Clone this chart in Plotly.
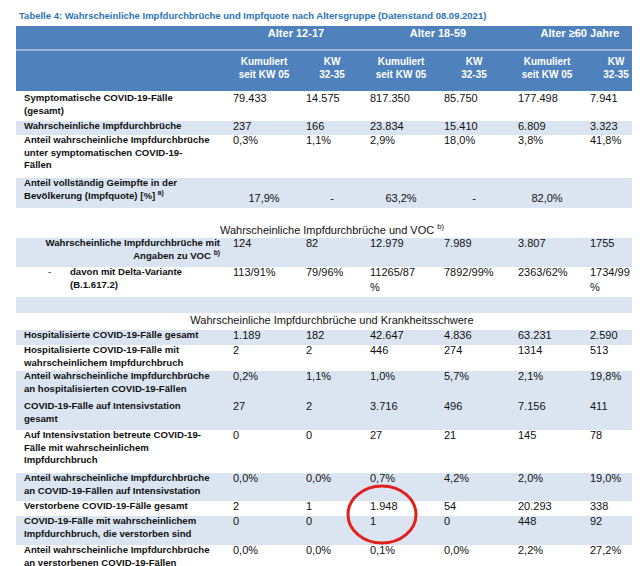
import plotly.graph_objects as go

# ---- data ----
title = "Tabelle 4: Wahrscheinliche Impfdurchbrüche und Impfquote nach Altersgruppe (Datenstand 08.09.2021)"
age_groups = ["Alter 12-17", "Alter 18-59", "Alter ≥60 Jahre"]
sub_headers = ["Kumuliert<br>seit KW 05", "KW<br>32-35"] * 3

row_labels = [
    "Symptomatische COVID-19-Fälle<br>(gesamt)",
    "Wahrscheinliche Impfdurchbrüche",
    "Anteil wahrscheinliche Impfdurchbrüche<br>unter symptomatischen COVID-19-<br>Fällen",
    "Anteil vollständig Geimpfte in der<br>Bevölkerung (Impfquote) [%] <sup>a)</sup>",
    "Wahrscheinliche Impfdurchbrüche mit<br>Angaben zu VOC <sup>b)</sup>",
    "davon mit Delta-Variante<br>(B.1.617.2)",
    "Hospitalisierte COVID-19-Fälle gesamt",
    "Hospitalisierte COVID-19-Fälle mit<br>wahrscheinlichem Impfdurchbruch",
    "Anteil wahrscheinliche Impfdurchbrüche<br>an hospitalisierten COVID-19-Fällen",
    "COVID-19-Fälle auf Intensivstation<br>gesamt",
    "Auf Intensivstation betreute COVID-19-<br>Fälle mit wahrscheinlichem<br>Impfdurchbruch",
    "Anteil wahrscheinliche Impfdurchbrüche<br>an COVID-19-Fällen auf Intensivstation",
    "Verstorbene COVID-19-Fälle gesamt",
    "COVID-19-Fälle mit wahrscheinlichem<br>Impfdurchbruch, die verstorben sind",
    "Anteil wahrscheinliche Impfdurchbrüche<br>an verstorbenen COVID-19-Fällen",
]
kum_12_17 = ["79.433", "237", "0,3%", "17,9%", "124", "113/91%", "1.189", "2", "0,2%", "27", "0", "0,0%", "2", "0", "0,0%"]
kw_12_17 = ["14.575", "166", "1,1%", "-", "82", "79/96%", "182", "2", "1,1%", "2", "0", "0,0%", "1", "0", "0,0%"]
kum_18_59 = ["817.350", "23.834", "2,9%", "63,2%", "12.979", "11265/87<br>%", "42.647", "446", "1,0%", "3.716", "27", "0,7%", "1.948", "1", "0,1%"]
kw_18_59 = ["85.750", "15.410", "18,0%", "-", "7.989", "7892/99%", "4.836", "274", "5,7%", "496", "21", "4,2%", "54", "0", "0,0%"]
kum_60 = ["177.498", "6.809", "3,8%", "82,0%", "3.807", "2363/62%", "63.231", "1314", "2,1%", "7.156", "145", "2,0%", "20.293", "448", "2,2%"]
kw_60 = ["7.941", "3.323", "41,8%", "", "1755", "1734/99<br>%", "2.590", "513", "19,8%", "411", "78", "19,0%", "338", "92", "27,2%"]
section_titles = ["Wahrscheinliche Impfdurchbrüche und VOC <sup>b)</sup>",
                  "Wahrscheinliche Impfdurchbrüche und Krankheitsschwere"]

# ---- layout (pixels) ----
W, H = 640, 566
row_top = [85, 113, 127, 170, 230, 259, 322, 337, 363, 393, 422, 465, 493, 508, 537]
row_bot = [113, 127, 170, 200, 259, 289, 337, 363, 393, 422, 465, 493, 508, 537, 563]
row_shaded = [False, True, False, True, True, False, True, False, True, True, False, True, False, True, False]
col_x = [225, 298, 362, 436, 510, 582]
col_center = [256, 324, 393, 466, 539, 608]
age_center = [288, 430, 572]
section_y = [223, 313]
LEFT, RIGHT = 8, 640
HEAD = "#4F81BD"
LIGHT = "#DBE5F1"
FONT = "Liberation Sans, Arial"
TXT = "#111111"
LBL = 9.6
VAL = 11

fig = go.Figure()
shapes = [dict(type="rect", x0=LEFT, x1=RIGHT, y0=18, y1=83, fillcolor=HEAD, line_width=0, layer="below"),
          dict(type="line", x0=LEFT, x1=RIGHT, y0=42, y1=42, line=dict(color="#9DB5D8", width=2)),
          dict(type="rect", x0=LEFT, x1=RIGHT, y0=289, y1=305, fillcolor=LIGHT, line_width=0, layer="below"),
          dict(type="line", x0=LEFT, x1=RIGHT, y0=564, y1=564, line=dict(color="#888888", width=2))]
for t, b, s in zip(row_top, row_bot, row_shaded):
    if s:
        shapes.append(dict(type="rect", x0=LEFT, x1=RIGHT, y0=t, y1=b, fillcolor=LIGHT, line_width=0, layer="below"))

# highlight circle around 1.948 / 1
i = row_labels.index("Verstorbene COVID-19-Fälle gesamt")
shapes.append(dict(type="circle", x0=col_x[2] - 22, x1=col_x[2] + 46, y0=row_top[i] - 15, y1=row_top[i] + 42,
                   line=dict(color="#E0201B", width=3)))

# headers
fig.add_trace(go.Scatter(x=age_center, y=[26] * 3, text=["<b>%s</b>" % a for a in age_groups], mode="text",
                         textfont=dict(family=FONT, size=11, color="white"), hoverinfo="skip"))
fig.add_trace(go.Scatter(x=col_center, y=[61] * 6, text=["<b>%s</b>" % s for s in sub_headers], mode="text",
                         textfont=dict(family=FONT, size=10, color="white"), hoverinfo="skip"))
fig.add_trace(go.Scatter(x=[324, 324], y=section_y, text=section_titles, mode="text",
                         textfont=dict(family=FONT, size=11, color=TXT), hoverinfo="skip"))

# labels
voc = 4
delta = 5
normal = [k for k in range(len(row_labels)) if k not in (voc, delta)]
fig.add_trace(go.Scatter(x=[16] * len(normal), y=[row_top[k] + 1 for k in normal],
                         text=["<b>%s</b>" % row_labels[k] for k in normal], mode="text", textposition="bottom right",
                         textfont=dict(family=FONT, size=LBL, color=TXT), hoverinfo="skip"))
fig.add_trace(go.Scatter(x=[212], y=[row_top[voc] + 1], text=["<b>%s</b>" % row_labels[voc]], mode="text",
                         textposition="bottom left", textfont=dict(family=FONT, size=LBL, color=TXT), hoverinfo="skip"))
fig.add_trace(go.Scatter(x=[40, 62], y=[row_top[delta] + 1] * 2, text=["-", "<b>%s</b>" % row_labels[delta]],
                         mode="text", textposition="bottom right",
                         textfont=dict(family=FONT, size=LBL, color=TXT), hoverinfo="skip"))

# values
quota = 3
cols = [kum_12_17, kw_12_17, kum_18_59, kw_18_59, kum_60, kw_60]
for c, vals in enumerate(cols):
    ks = [k for k in range(len(vals)) if k != quota]
    fig.add_trace(go.Scatter(x=[col_x[c]] * len(ks), y=[row_top[k] + 1 for k in ks], text=[vals[k] for k in ks],
                             mode="text", textposition="bottom right",
                             textfont=dict(family=FONT, size=VAL, color=TXT), hoverinfo="skip"))
fig.add_trace(go.Scatter(x=col_center[:5], y=[(row_top[quota] + row_bot[quota]) / 2 + 6] * 5,
                         text=[cols[c][quota] for c in range(5)], mode="text",
                         textfont=dict(family=FONT, size=VAL, color=TXT), hoverinfo="skip"))

fig.update_layout(
    width=W, height=H, margin=dict(l=0, r=0, t=0, b=0), showlegend=False,
    paper_bgcolor="white", plot_bgcolor="white", shapes=shapes,
    xaxis=dict(range=[0, W], visible=False, fixedrange=True),
    yaxis=dict(range=[H, 0], visible=False, fixedrange=True),
    annotations=[dict(x=9, y=7, xref="x", yref="y", xanchor="left", yanchor="middle", showarrow=False,
                      text="<b>%s</b>" % title, font=dict(family=FONT, size=9.5, color="#2E74B5"))],
)
fig.write_html("out.html")
